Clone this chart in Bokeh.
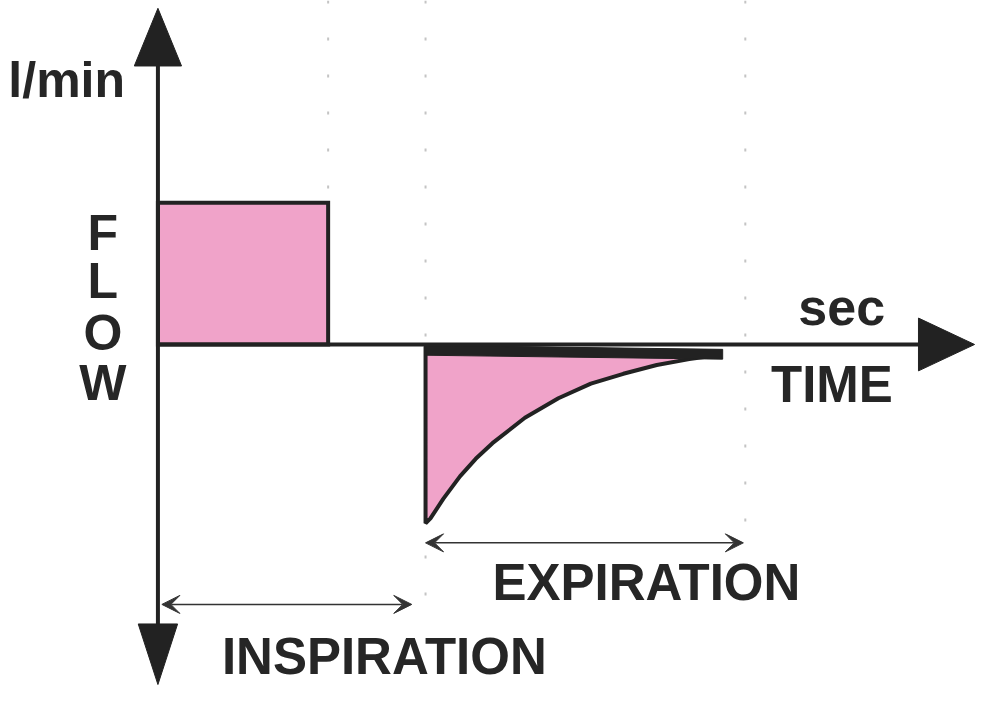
from bokeh.plotting import figure
from bokeh.models import Arrow, VeeHead
from bokeh.core.properties import value
from bokeh.embed import file_html
from bokeh.resources import INLINE

# ---- data (time in arbitrary sec units, flow in arbitrary l/min units) ----
insp_t = [0.0, 1.73]          # inspiration start / end
insp_flow = 1.45              # constant inspiratory flow
exp_t = [2.72, 2.77, 2.90, 3.07, 3.23, 3.40, 3.73, 4.07, 4.40, 4.73, 5.07, 5.40, 5.68]
exp_flow = [-1.83, -1.78, -1.58, -1.35, -1.17, -1.01, -0.75, -0.55, -0.40, -0.30, -0.21, -0.15, -0.11]
exp_end = 5.97                # end of expiration period
divider_t = [1.73, 2.72, 5.97]
divider_bottom = [1.45, -2.75, -2.05]

x_axis_end = 7.75
y_axis_top = 2.87
y_axis_bottom = -2.88

INK = "#222222"
PINK = "#F0A3C9"
TXT = "#262626"
FONT = value("Liberation Sans")

X0, X1 = -1.60, 8.34
Y0, Y1 = -3.50, 3.52

p = figure(width=978, height=686, x_range=(X0, X1), y_range=(Y0, Y1),
           x_axis_type=None, y_axis_type=None, toolbar_location=None,
           output_backend="svg", min_border=0)
p.grid.visible = False
p.outline_line_color = None
p.background_fill_color = "white"

# dotted dividers
for t, b in zip(divider_t, divider_bottom):
    p.segment(x0=[t], y0=[Y1], x1=[t], y1=[b], line_color="#c4c4c4",
              line_width=2, line_dash="3 34")

# inspiration square wave
p.patch(x=[insp_t[0], insp_t[0], insp_t[1], insp_t[1]],
        y=[0, insp_flow, insp_flow, 0], fill_color=PINK,
        line_color=INK, line_width=4, line_join="miter")

# expiration exponential decay
px = [exp_t[0]] + exp_t + [exp_t[-1] + 0.04]
py = [-0.02] + exp_flow + [-0.08]
p.patch(x=px, y=py, fill_color=PINK, line_color=INK, line_width=4)
# thick top band of expiratory trace
p.patch(x=[exp_t[0], exp_t[-1] + 0.06, exp_t[-1] + 0.06, exp_t[0]],
        y=[-0.01, -0.05, -0.15, -0.11], fill_color=INK, line_color=INK, line_width=1)

# axes
p.segment(x0=[0], y0=[0], x1=[x_axis_end], y1=[0], line_color=INK, line_width=4)
p.segment(x0=[0], y0=[y_axis_bottom], x1=[0], y1=[y_axis_top], line_color=INK, line_width=4)

# axis arrowheads
p.patch(x=[x_axis_end - 0.02, 8.30, x_axis_end - 0.02],
        y=[0.27, 0.0, -0.27], fill_color=INK, line_color=INK)
p.patch(x=[-0.24, 0.0, 0.24], y=[y_axis_top - 0.02, 3.44, y_axis_top - 0.02],
        fill_color=INK, line_color=INK)
p.patch(x=[-0.20, 0.0, 0.20], y=[y_axis_bottom + 0.02, -3.48, y_axis_bottom + 0.02],
        fill_color=INK, line_color=INK)

# period arrows
for (xs, xe, yy) in [(insp_t[0] + 0.04, divider_t[1] - 0.14, -2.66),
                     (exp_t[0], exp_end - 0.02, -2.03)]:
    p.add_layout(Arrow(x_start=xs, y_start=yy, x_end=xe, y_end=yy,
                       line_color="#333333", line_width=1.5,
                       start=VeeHead(size=18, fill_color="#333333", line_color="#333333"),
                       end=VeeHead(size=18, fill_color="#333333", line_color="#333333")))

# labels (y offset compensates the renderer's baseline placement)
DY = 0.19
def label(x, y, s, size, align="left"):
    p.text(x=[x], y=[y + DY], text=[s], text_font=FONT, text_font_style="bold",
           text_font_size=size, text_color=TXT, text_align=align,
           text_baseline="alphabetic")

label(-1.52, 2.52, "l/min", "50px")
for ch, fy in zip("FLOW", [0.95, 0.46, -0.07, -0.58]):
    label(-0.56, fy, ch, "50px", "center")
label(6.95, 0.19, "sec", "52px", "center")
label(6.85, -0.60, "TIME", "51px", "center")
label(3.40, -2.63, "EXPIRATION", "51px")
label(0.65, -3.38, "INSPIRATION", "51px")

open("out.html", "w").write(file_html(p, INLINE))
